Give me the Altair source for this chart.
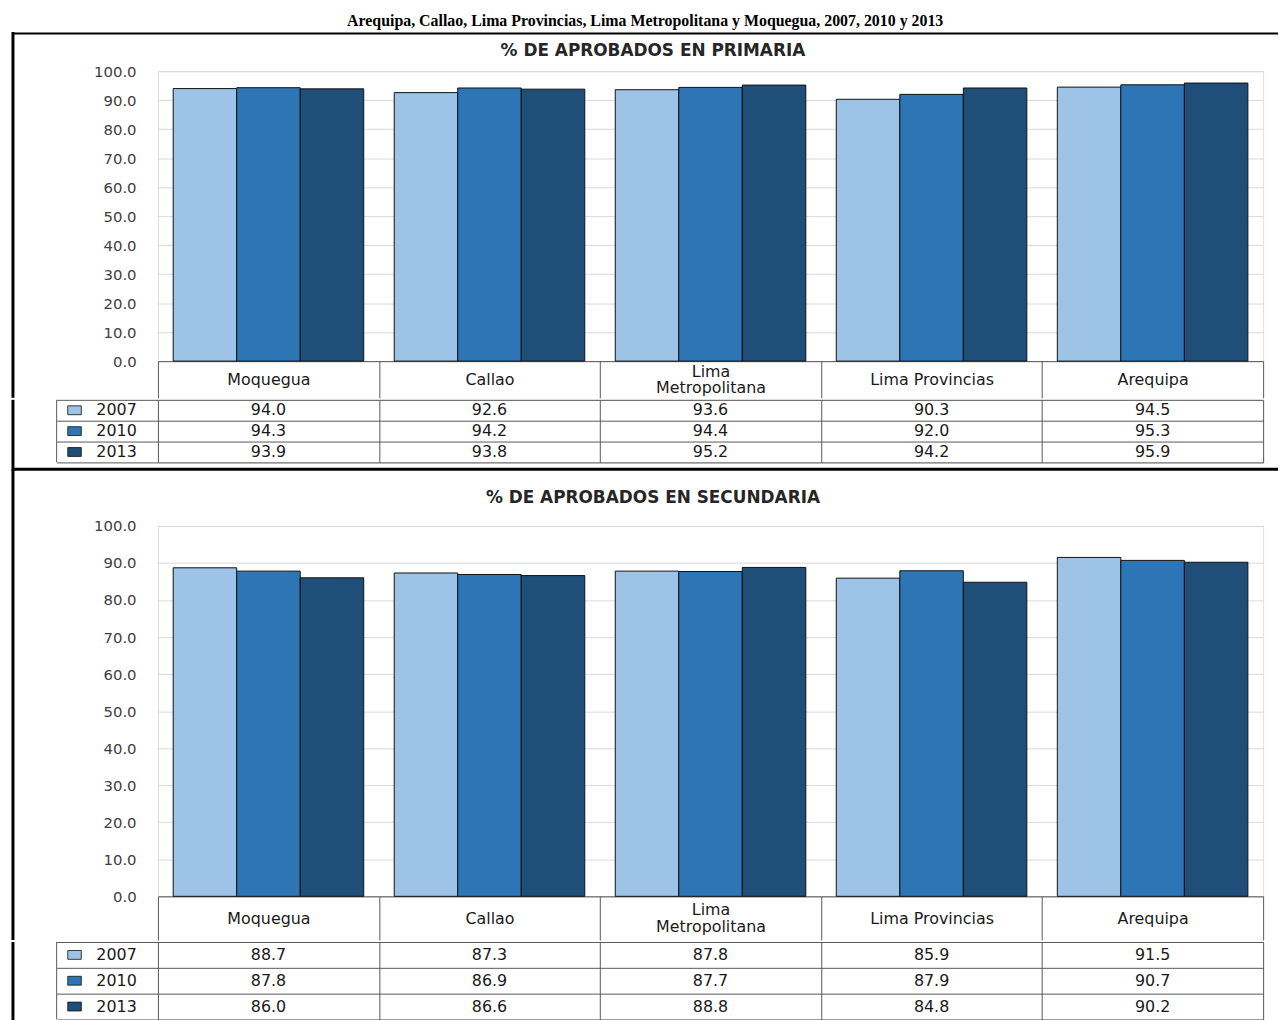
import altair as alt
import pandas as pd

# ---------------- data ----------------
regions = ["Moquegua", "Callao", "Lima Metropolitana", "Lima Provincias", "Arequipa"]
years = ["2007", "2010", "2013"]

prim_2007 = [94.0, 92.6, 93.6, 90.3, 94.5]
prim_2010 = [94.3, 94.2, 94.4, 92.0, 95.3]
prim_2013 = [93.9, 93.8, 95.2, 94.2, 95.9]

sec_2007 = [88.7, 87.3, 87.8, 85.9, 91.5]
sec_2010 = [87.8, 86.9, 87.7, 87.9, 90.7]
sec_2013 = [86.0, 86.6, 88.8, 84.8, 90.2]

colors = ["#9DC3E6", "#2E75B6", "#1F4E79"]
y_ticks = [0, 10, 20, 30, 40, 50, 60, 70, 80, 90, 100]

main_title = "Arequipa, Callao, Lima Provincias, Lima Metropolitana y Moquegua, 2007, 2010 y 2013"
panel_titles = ["% DE APROBADOS EN PRIMARIA", "% DE APROBADOS EN SECUNDARIA"]

# ---------------- styling ----------------
FONT = "DejaVu Sans"
W = 1113          # plot width
LEG_W = 102       # legend column width of the data table
EDGE_L = 146      # distance from plot left edge to outer frame
EDGE_R = 15
GRID = "#595959"
LINE_H = 17
RECT_SYMBOL = "M-1.3,-0.85H1.3V0.85H-1.3Z"
JOIN = -4         # compensates for stroke bounds so stacked pieces touch


def panel(v07, v10, v13, title, plot_h, top_gap, title_gap, header_h, row_h,
          bottom_gap, draw_top, draw_bottom):
    df = pd.DataFrame({
        "region": regions * 3,
        "year": [years[0]] * 5 + [years[1]] * 5 + [years[2]] * 5,
        "value": v07 + v10 + v13,
    })
    one = pd.DataFrame({"k": [0]})
    tdf = pd.DataFrame({"t": [title]})
    table_h = row_h * 3

    pad_cond = {"condition": {"test": "length(datum.label) > 16",
                              "value": -header_h / 2 - LINE_H / 2},
                "value": -header_h / 2}

    # ---- bar chart ----
    bars = alt.Chart(df).mark_bar(stroke="#111111", strokeWidth=1).encode(
        x=alt.X("region:N", sort=regions, title=None,
                scale=alt.Scale(domain=regions, paddingInner=0, paddingOuter=0),
                axis=alt.Axis(orient="bottom", labelAngle=0, domain=True, domainColor=GRID,
                              ticks=True, tickBand="extent", tickSize=header_h, tickColor=GRID,
                              labelFont=FONT, labelFontSize=16, labelColor="#1a1a1a",
                              labelBaseline="middle", labelPadding=pad_cond,
                              labelLineHeight=LINE_H, labelLimit=220,
                              labelExpr="length(datum.label) > 16 ? split(datum.label, ' ') : datum.label",
                              grid=False)),
        xOffset=alt.XOffset("year:N", sort=years,
                            scale=alt.Scale(domain=years, paddingInner=0, paddingOuter=0.24)),
        y=alt.Y("value:Q", title=None, scale=alt.Scale(domain=[0, 100], nice=False),
                axis=alt.Axis(values=y_ticks, format=".1f", domain=False, ticks=False,
                              grid=True, gridColor="#d9d9d9", labelFont=FONT,
                              labelFontSize=15, labelColor="#404040", labelPadding=22)),
        color=alt.Color("year:N", scale=alt.Scale(domain=years, range=colors), legend=None),
    )
    ttl = alt.Chart(tdf).mark_text(font=FONT, fontSize=17, fontWeight="bold", color="#262626",
                                   baseline="middle", align="center").encode(
        x=alt.value(W / 2 - 58), y=alt.value(-title_gap), text="t:N")
    left1 = alt.Chart(one).mark_rule(color="black", strokeWidth=3, strokeCap="square").encode(
        x=alt.value(-EDGE_L), y=alt.value(-top_gap), y2=alt.value(plot_h + header_h - 1.5))
    blayers = [left1]
    if draw_top:
        blayers.append(alt.Chart(one).mark_rule(color="black", strokeWidth=2).encode(
            x=alt.value(-EDGE_L), x2=alt.value(W + EDGE_R), y=alt.value(-top_gap)))
    blayers += [ttl, bars]
    bar_chart = alt.layer(*blayers).properties(width=W, height=plot_h)

    # ---- data table ----
    tx = alt.X("region:N", sort=regions, title=None,
               scale=alt.Scale(domain=regions, paddingInner=0, paddingOuter=0),
               axis=alt.Axis(labels=False, ticks=False, domain=False, grid=True,
                             gridColor=GRID, tickBand="extent"))
    ty = alt.Y("year:N", sort=years, title=None,
               scale=alt.Scale(domain=years, paddingInner=0, paddingOuter=0),
               axis=alt.Axis(labels=False, domain=False, ticks=True, tickSize=LEG_W,
                             tickBand="extent", tickColor=GRID, grid=True, gridColor=GRID))
    cells = alt.Chart(df).mark_text(font=FONT, fontSize=16, color="#1a1a1a").encode(
        x=tx, y=ty, text=alt.Text("value:Q", format=".1f"))
    leg = alt.Chart(df).transform_filter("datum.value < 0").mark_square(
        size=110, stroke="#111111", strokeWidth=0.8).encode(
        color=alt.Color("year:N", scale=alt.Scale(domain=years, range=colors),
                        legend=alt.Legend(title=None, orient="none", legendX=-92, legendY=0,
                                          direction="vertical", symbolType=RECT_SYMBOL,
                                          symbolSize=110, symbolStrokeColor="#111111",
                                          symbolStrokeWidth=0.8, symbolOpacity=1,
                                          labelFont=FONT, labelFontSize=16,
                                          labelColor="#1a1a1a", labelOffset=14,
                                          clipHeight=row_h, rowPadding=0, padding=0)))
    legb = alt.Chart(one).mark_rule(color=GRID, strokeWidth=1).encode(
        x=alt.value(-LEG_W), y=alt.value(0), y2=alt.value(table_h))
    left2 = alt.Chart(one).mark_rule(color="black", strokeWidth=3, strokeCap="square").encode(
        x=alt.value(-EDGE_L), y=alt.value(1.5), y2=alt.value(table_h + bottom_gap))
    tlayers = [cells, leg, legb, left2]
    if draw_bottom:
        tlayers.append(alt.Chart(one).mark_rule(color="black", strokeWidth=3).encode(
            x=alt.value(-EDGE_L), x2=alt.value(W + EDGE_R), y=alt.value(table_h + bottom_gap)))
    table_chart = alt.layer(*tlayers).properties(width=W, height=table_h)

    return alt.vconcat(bar_chart, table_chart, spacing=JOIN).resolve_scale(
        color="independent").resolve_legend(color="independent")


p1 = panel(prim_2007, prim_2010, prim_2013, panel_titles[0], plot_h=292, top_gap=38,
           title_gap=20, header_h=37, row_h=21, bottom_gap=7, draw_top=True, draw_bottom=True)
p2 = panel(sec_2007, sec_2010, sec_2013, panel_titles[1], plot_h=373, top_gap=55,
           title_gap=28, header_h=44, row_h=26, bottom_gap=4, draw_top=False, draw_bottom=False)

chart = alt.vconcat(
    p1, p2, spacing=JOIN,
    title=alt.TitleParams(main_title, font="Liberation Serif", fontSize=16, fontWeight="bold",
                          color="black", anchor="middle", offset=2),
).resolve_scale(color="independent").resolve_legend(color="independent").properties(
    padding={"left": 2, "top": 1, "right": 0, "bottom": 0}
).configure_view(strokeWidth=0).configure(background="white")

chart.save("out.html", embed_options={"renderer": "svg", "actions": False})
